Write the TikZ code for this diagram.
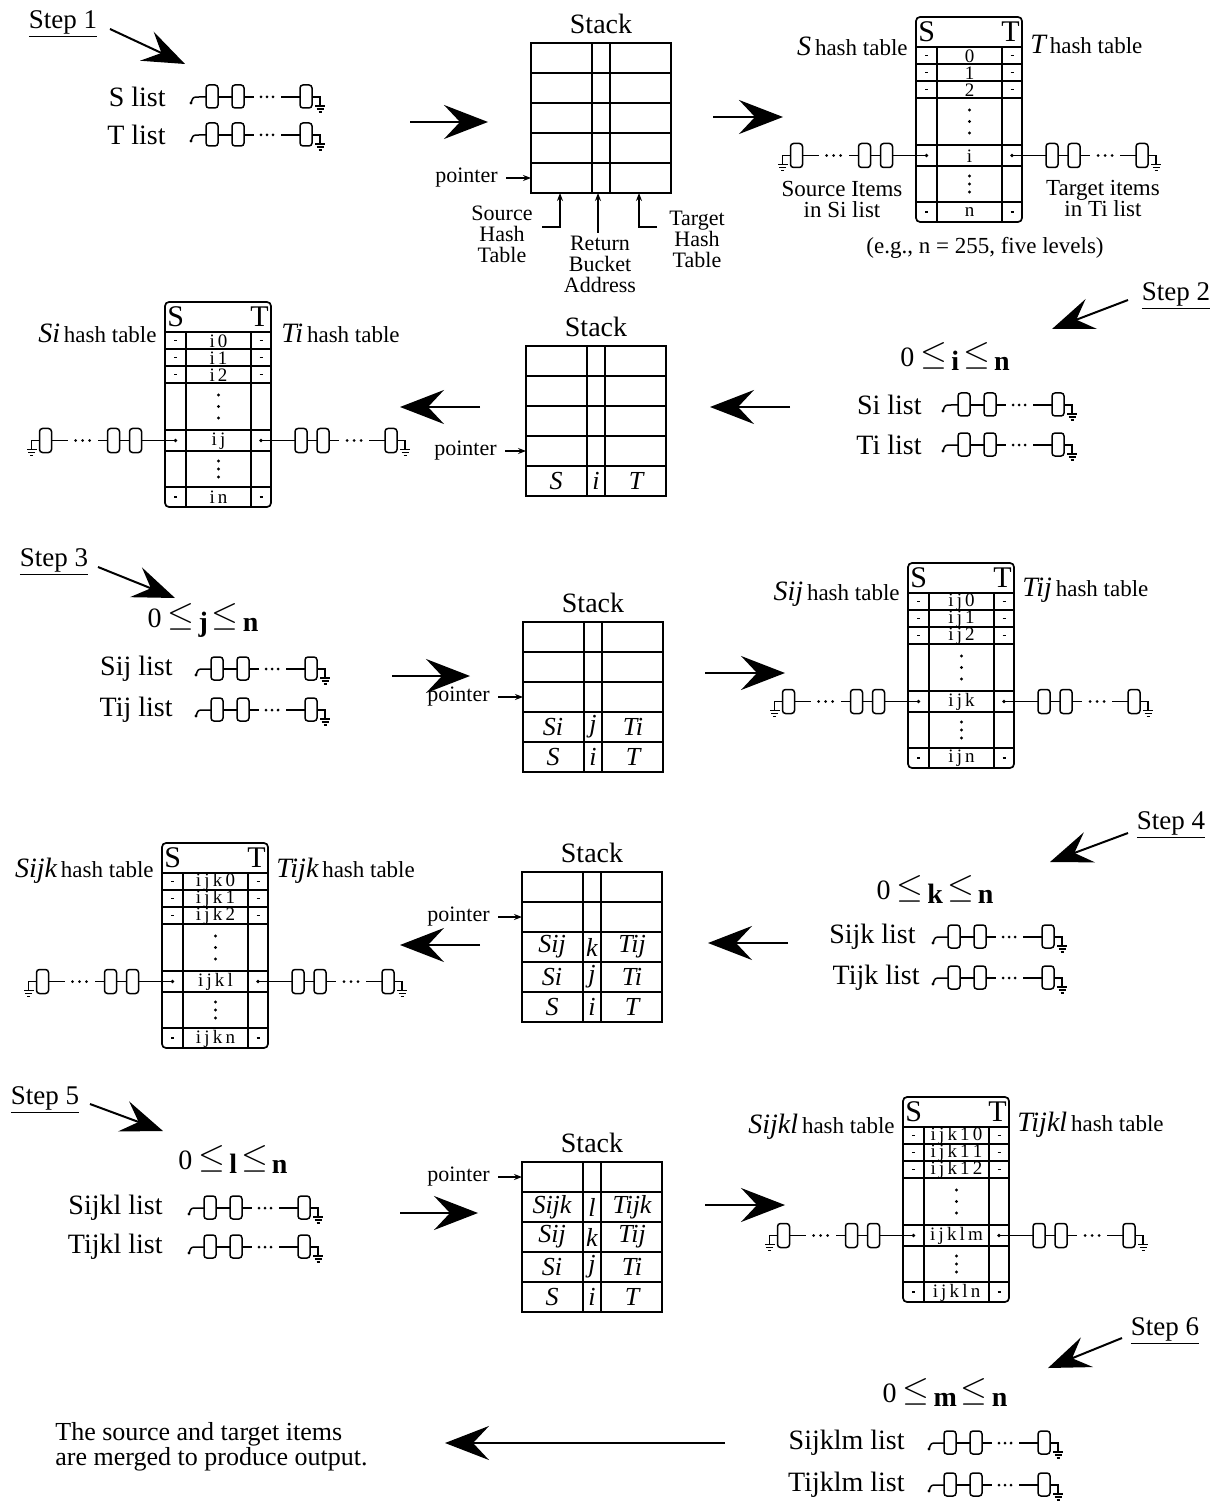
\documentclass[tikz,border=0pt]{standalone}
\usepackage{fontspec}
\setmainfont{Liberation Serif}
\usetikzlibrary{arrows.meta}

\tikzset{
  lw/.style={line width=0.75pt},
  tbl/.style={line width=0.85pt},
  bigarrow/.style={line width=1.1pt, -{Stealth[length=22pt,width=17pt,inset=8pt]}},
  steparrow/.style={line width=1pt, -{Stealth[length=21pt,width=16pt,inset=8pt]}},
  ptrarrow/.style={line width=0.6pt, -{Stealth[length=4pt,width=3pt]}},
  lbl/.style={inner sep=0pt, font=\fontsize{14}{16}\selectfont},
  steplbl/.style={inner sep=0pt, font=\fontsize{13.5}{15}\selectfont},
  stitle/.style={inner sep=0pt, font=\fontsize{14}{16}\selectfont},
  ptr/.style={inner sep=0pt, font=\fontsize{11}{12}\selectfont},
  ann/.style={inner sep=0pt, align=center, font=\fontsize{11}{10.5}\selectfont},
  hlabel/.style={inner sep=0pt, font=\fontsize{11.5}{12}\selectfont},
  hdr/.style={inner sep=0pt, font=\fontsize{15}{15}\selectfont},
  cell/.style={inner sep=0pt, font=\fontsize{9.5}{9.5}\selectfont},
  ent/.style={inner sep=0pt, font=\fontsize{13}{13}\selectfont\itshape},
  rng/.style={inner sep=0pt, font=\fontsize{14}{16}\selectfont},
  % linked list starting with a loose pointer end
  slist/.pic={
    \fill (3,6) circle (1.6);
    \draw[lw] (3,6) .. controls (5,0) .. (11,0) -- (18,0);
    \draw[lw, rounded corners=1.5] (18,-12) rectangle (30,11);
    \draw[lw] (30,0) -- (44,0);
    \draw[lw, rounded corners=1.5] (44,-12) rectangle (56,11);
    \draw[lw] (56,0) -- (66,0);
    \fill (73,0) circle (1.5) (79,0) circle (1.5) (85,0) circle (1.5);
    \draw[lw] (93,0) -- (112,0);
    \draw[lw, rounded corners=1.5] (112,-12) rectangle (124,11);
    \draw[lw] (124,0) -- (132,0) -- (132,9);
    \draw[lw] (127,9) -- (137,9) (128.5,12) -- (135.5,12) (130.5,15) -- (133.5,15);
  },
  % linked list hanging off a hash bucket; the argument is +1 (rightwards) or -1 (leftwards)
  pics/hlist/.style={code={
    \fill (0,0) circle (1.8);
    \draw[lw] (0,0) -- (#1*34,0);
    \draw[lw, rounded corners=1.5] (#1*34,-12) rectangle (#1*46,12);
    \draw[lw] (#1*46,0) -- (#1*56,0);
    \draw[lw, rounded corners=1.5] (#1*56,-12) rectangle (#1*68,12);
    \draw[lw] (#1*68,0) -- (#1*78,0);
    \fill (#1*86,0) circle (1.5) (#1*93,0) circle (1.5) (#1*100,0) circle (1.5);
    \draw[lw] (#1*108,0) -- (#1*124,0);
    \draw[lw, rounded corners=1.5] (#1*124,-12) rectangle (#1*136,12);
    \draw[lw] (#1*136,0) -- (#1*144,0) -- (#1*144,9);
    \draw[lw] (#1*139,9) -- (#1*149,9) (#1*140.5,12) -- (#1*147.5,12) (#1*142.5,15) -- (#1*145.5,15);
  }}
}

% stack of five records: name, left x, top y
\newcommand\dgstack[3]{%
  \begin{scope}[shift={(#2,#3)}]
    \draw[tbl] (0,0) rectangle (140,150);
    \foreach \yy in {30,60,90,120} {\draw[tbl] (0,\yy) -- (140,\yy);}
    \draw[tbl] (61,0) -- (61,150) (79,0) -- (79,150);
    \node[stitle] (#1-title) at (70,-19) {Stack};
    \coordinate (#1-r1) at (0,15);
    \coordinate (#1-r2) at (0,45);
    \coordinate (#1-r3) at (0,75);
    \coordinate (#1-r4) at (0,105);
    \coordinate (#1-r5) at (0,135);
    \coordinate (#1-bot) at (0,150);
  \end{scope}}

% one stack record: name, stack left x, row centre y, source, bucket, target
\newcommand\dgentry[6]{%
  \node[ent] (#1-s) at (#2+30,#3) {#4};
  \node[ent] (#1-b) at (#2+70,#3) {#5};
  \node[ent] (#1-t) at (#2+110,#3) {#6};}

% hash table: name, left x, top y, row labels 0,1,2, key row, last row
\newcommand\dghash[8]{%
  \begin{scope}[shift={(#2,#3)}]
    \draw[tbl, rounded corners=2] (0,0) rectangle (106,205);
    \draw[tbl] (0,30) -- (106,30);
    \foreach \yy in {47,64,81,128,149,185} {\draw[tbl] (0,\yy) -- (106,\yy);}
    \draw[tbl] (21,30) -- (21,205) (86,30) -- (86,205);
    \node[hdr, anchor=west] (#1-S) at (2,15) {S};
    \node[hdr, anchor=east] (#1-T) at (104,15) {T};
    \node[cell] (#1-r0) at (53.5,39) {#4};
    \node[cell] (#1-r1) at (53.5,56) {#5};
    \node[cell] (#1-r2) at (53.5,73) {#6};
    \node[cell] (#1-rk) at (53.5,139) {#7};
    \node[cell] (#1-rn) at (53.5,195.5) {#8};
    \foreach \yy in {93,104.5,116,159,167,175} {\fill (53.5,\yy) circle (1.6);}
    \foreach \yy in {38.5,55.5,72.5,195} {\draw[line width=0.9pt] (9,\yy) -- (12,\yy) (94.5,\yy) -- (97.5,\yy);}
    \coordinate (#1-sk) at (10.5,138.5);
    \coordinate (#1-tk) at (96,138.5);
  \end{scope}
  \pic at (#1-sk) {hlist=-1};
  \pic at (#1-tk) {hlist=1};}

\newcommand\dgrange[1]{0\hspace{3pt}\raisebox{1pt}{\fontsize{16}{16}\selectfont$\leq$}\hspace{2pt}\raisebox{-2pt}{\textbf{#1}}\hspace{2pt}\raisebox{1pt}{\fontsize{16}{16}\selectfont$\leq$}\hspace{2pt}\raisebox{-2pt}{\textbf{n}}}
\newcommand\dghl[1]{{\fontsize{14}{14}\selectfont\itshape #1}\,hash table}

\begin{document}
\begin{tikzpicture}[x=0.5pt, y=-0.5pt]
\fill[white] (0,0) rectangle (1220,1502);
\useasboundingbox (0,0) rectangle (1220,1502);

% ---------------- Step 1 ----------------
\node[steplbl] (st1) at (63,24) {\underline{Step 1}};
\coordinate (st1a) at (110,29); \coordinate (st1b) at (185,64);
\draw[steparrow] (st1a) -- (st1b);
\node[lbl, anchor=east] (sl1) at (166,97) {S list};
\pic at (188,97) {slist};
\node[lbl, anchor=east] (tl1) at (166,135) {T list};
\pic at (188,135) {slist};
\coordinate (a1s) at (410,122); \coordinate (a1e) at (488,122);
\draw[bigarrow] (a1s) -- (a1e);

\dgstack{K1}{531}{43}
\node[ptr, anchor=east] (p1) at (498,178) {pointer};
\draw[ptrarrow] ([xshift=4pt]p1.east) -- (K1-r5);
\node[ann] (src) at (502,234) {Source\\Hash\\Table};
\node[ann] (ret) at (600,264) {Return\\Bucket\\Address};
\node[ann] (tgt) at (697,239) {Target\\Hash\\Table};
\coordinate (srcA) at (542,227); \coordinate (srcB) at (560,193);
\coordinate (retA) at (598,233); \coordinate (retB) at (598,193);
\coordinate (tgtA) at (657,227); \coordinate (tgtB) at (639,193);
\draw[ptrarrow] (srcA) -| (srcB);
\draw[ptrarrow] (retA) -- (retB);
\draw[ptrarrow] (tgtA) -| (tgtB);

\coordinate (a2s) at (713,117); \coordinate (a2e) at (783,117);
\draw[bigarrow] (a2s) -- (a2e);

\dghash{H1}{916}{17}{0}{1}{2}{i}{n}
\node[hlabel, anchor=east] (h1s) at (908,46) {\dghl{S}};
\node[hlabel, anchor=west] (h1t) at (1030,44) {\dghl{T}};
\node[ann, font=\fontsize{11.5}{10.5}\selectfont] (srcitems) at (842,200) {Source Items\\in Si list};
\node[ann, font=\fontsize{11.5}{10.5}\selectfont] (tgtitems) at (1103,199) {Target items\\in Ti list};
\node[hlabel] (eg) at (985,248) {(e.g., n = 255, five levels)};

% ---------------- Step 2 ----------------
\node[steplbl] (st2) at (1176,296) {\underline{Step 2}};
\coordinate (st2a) at (1128,300); \coordinate (st2b) at (1052,329);
\draw[steparrow] (st2a) -- (st2b);
\node[rng] (rg2) at (955,357) {\dgrange{i}};
\node[lbl, anchor=east] (sl2) at (922,405) {Si list};
\pic at (940,405) {slist};
\node[lbl, anchor=east] (tl2) at (922,445) {Ti list};
\pic at (940,445) {slist};
\coordinate (b1s) at (790,407); \coordinate (b1e) at (710,407);
\draw[bigarrow] (b1s) -- (b1e);

\dgstack{K2}{526}{346}
\dgentry{K2e5}{526}{481}{S}{i}{T}
\node[ptr, anchor=east] (p2) at (497,451) {pointer};
\draw[ptrarrow] ([xshift=4pt]p2.east) -- (K2-r4);
\coordinate (b2s) at (480,407); \coordinate (b2e) at (400,407);
\draw[bigarrow] (b2s) -- (b2e);

\dghash{H2}{165}{302}{i\,0}{i\,1}{i\,2}{i\,j}{i\,n}
\node[hlabel, anchor=east] (h2s) at (157,333) {\dghl{Si}};
\node[hlabel, anchor=west] (h2t) at (281,333) {\dghl{Ti}};

% ---------------- Step 3 ----------------
\node[steplbl] (st3) at (54,562) {\underline{Step 3}};
\coordinate (st3a) at (98,567); \coordinate (st3b) at (175,598);
\draw[steparrow] (st3a) -- (st3b);
\node[rng] (rg3) at (203,620) {\dgrange{j}};
\node[lbl, anchor=east] (sl3) at (173,669) {Sij list};
\pic at (193,669) {slist};
\node[lbl, anchor=east] (tl3) at (173,710) {Tij list};
\pic at (193,710) {slist};
\coordinate (c1s) at (392,676); \coordinate (c1e) at (470,676);
\draw[bigarrow] (c1s) -- (c1e);

\dgstack{K3}{523}{622}
\dgentry{K3e4}{523}{727}{Si}{j}{Ti}
\dgentry{K3e5}{523}{757}{S}{i}{T}
\node[ptr, anchor=east] (p3) at (490,697) {pointer};
\draw[ptrarrow] ([xshift=4pt]p3.east) -- (K3-r3);
\coordinate (c2s) at (705,673); \coordinate (c2e) at (785,673);
\draw[bigarrow] (c2s) -- (c2e);

\dghash{H3}{908}{563}{i\,j\,0}{i\,j\,1}{i\,j\,2}{i\,j\,k}{i\,j\,n}
\node[hlabel, anchor=east] (h3s) at (900,594) {\dghl{Sij}};
\node[hlabel, anchor=west] (h3t) at (1022,590) {\dghl{Tij}};

% ---------------- Step 4 ----------------
\node[steplbl] (st4) at (1171,825) {\underline{Step 4}};
\coordinate (st4a) at (1128,833); \coordinate (st4b) at (1050,862);
\draw[steparrow] (st4a) -- (st4b);
\node[rng] (rg4) at (935,890) {\dgrange{k}};
\node[lbl, anchor=east] (sl4) at (916,937) {Sijk list};
\pic at (930,937) {slist};
\node[lbl, anchor=east] (tl4) at (920,978) {Tijk list};
\pic at (930,978) {slist};
\coordinate (d1s) at (788,943); \coordinate (d1e) at (708,943);
\draw[bigarrow] (d1s) -- (d1e);

\dgstack{K4}{522}{872}
\dgentry{K4e3}{522}{947}{Sij}{k}{Tij}
\dgentry{K4e4}{522}{977}{Si}{j}{Ti}
\dgentry{K4e5}{522}{1007}{S}{i}{T}
\node[ptr, anchor=east] (p4) at (490,917) {pointer};
\draw[ptrarrow] ([xshift=4pt]p4.east) -- (K4-r2);
\coordinate (d2s) at (480,945); \coordinate (d2e) at (400,945);
\draw[bigarrow] (d2s) -- (d2e);

\dghash{H4}{162}{843}{i\,j\,k\,0}{i\,j\,k\,1}{i\,j\,k\,2}{i\,j\,k\,l}{i\,j\,k\,n}
\node[hlabel, anchor=east] (h4s) at (154,871) {\dghl{Sijk}};
\node[hlabel, anchor=west] (h4t) at (276,871) {\dghl{Tijk}};

% ---------------- Step 5 ----------------
\node[steplbl] (st5) at (45,1100) {\underline{Step 5}};
\coordinate (st5a) at (90,1104); \coordinate (st5b) at (163,1131);
\draw[steparrow] (st5a) -- (st5b);
\node[rng] (rg5) at (233,1159) {\dgrange{l}};
\node[lbl, anchor=east] (sl5) at (163,1208) {Sijkl list};
\pic at (186,1208) {slist};
\node[lbl, anchor=east] (tl5) at (163,1247) {Tijkl list};
\pic at (186,1247) {slist};
\coordinate (e1s) at (400,1213); \coordinate (e1e) at (478,1213);
\draw[bigarrow] (e1s) -- (e1e);

\dgstack{K5}{522}{1162}
\dgentry{K5e2}{522}{1207}{Sijk}{l}{Tijk}
\dgentry{K5e3}{522}{1237}{Sij}{k}{Tij}
\dgentry{K5e4}{522}{1267}{Si}{j}{Ti}
\dgentry{K5e5}{522}{1297}{S}{i}{T}
\node[ptr, anchor=east] (p5) at (490,1177) {pointer};
\draw[ptrarrow] ([xshift=4pt]p5.east) -- (K5-r1);
\coordinate (e2s) at (705,1205); \coordinate (e2e) at (785,1205);
\draw[bigarrow] (e2s) -- (e2e);

\dghash{H5}{903}{1097}{i\,j\,k\,1\,0}{i\,j\,k\,1\,1}{i\,j\,k\,1\,2}{i\,j\,k\,l\,m}{i\,j\,k\,l\,n}
\node[hlabel, anchor=east] (h5s) at (895,1127) {\dghl{Sijkl}};
\node[hlabel, anchor=west] (h5t) at (1017,1125) {\dghl{Tijkl}};

% ---------------- Step 6 ----------------
\node[steplbl] (st6) at (1165,1331) {\underline{Step 6}};
\coordinate (st6a) at (1122,1338); \coordinate (st6b) at (1048,1368);
\draw[steparrow] (st6a) -- (st6b);
\node[rng] (rg6) at (945,1392) {\dgrange{m}};
\node[lbl, anchor=east] (sl6) at (905,1443) {Sijklm list};
\pic at (926,1443) {slist};
\node[lbl, anchor=east] (tl6) at (905,1485) {Tijklm list};
\pic at (926,1485) {slist};
\node[lbl, anchor=west, align=left, font=\fontsize{13}{12.5}\selectfont] (out) at (55,1447)
  {The source and target items\\are merged to produce output.};
\coordinate (f1s) at (725,1443); \coordinate (f1e) at (445,1443);
\draw[bigarrow] (f1s) -- (f1e);
\end{tikzpicture}
\end{document}
